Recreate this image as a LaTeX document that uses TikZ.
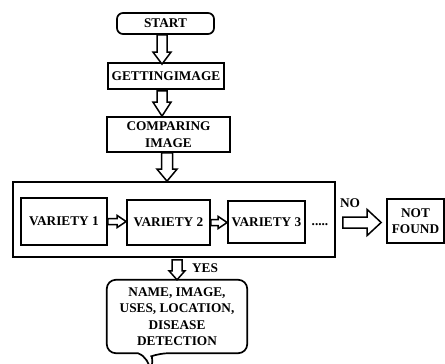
\documentclass[tikz,border=0pt]{standalone}
\usepackage{fontspec}
\setmainfont{Liberation Serif}
\usetikzlibrary{calc}
\tikzset{
  lbl/.style={font=\bfseries\fontsize{13.3}{16.5}\selectfont, inner sep=0pt, align=center},
  box/.style={lbl, draw, line width=1.7pt},
  arrline/.style={line width=1.5pt, line join=miter, fill=white},
}
\newcommand\varr[5]{% from, to, shaft half, head half, head length
  \draw[arrline] let \p1=(#1), \p2=(#2) in
    (\x1-#3,\y1) -- (\x1+#3,\y1) -- (\x1+#3,\y2+#5) -- (\x1+#4,\y2+#5) -- (\x1,\y2)
    -- (\x1-#4,\y2+#5) -- (\x1-#3,\y2+#5) -- cycle;}
\newcommand\harr[5]{% from, to, shaft half, head half, head length
  \draw[arrline] let \p1=(#1), \p2=(#2) in
    (\x1,\y1-#3) -- (\x1,\y1+#3) -- (\x2-#5,\y1+#3) -- (\x2-#5,\y1+#4) -- (\x2,\y1)
    -- (\x2-#5,\y1-#4) -- (\x2-#5,\y1-#3) -- cycle;}
\begin{document}
\begin{tikzpicture}[x=1pt, y=-1pt]
\useasboundingbox[fill=white] (0,0) rectangle (445,364);

\node[box, rounded corners=6pt, minimum width=97pt, minimum height=21pt] (start) at (165.5,23.5) {START};
\node[box, minimum width=116pt, minimum height=26pt] (get) at (166,76) {GETTINGIMAGE};
\node[box, minimum width=123pt, minimum height=35pt] (comp) at (168.5,134.5) {COMPARING\\IMAGE};

\node[box, minimum width=322pt, minimum height=75pt] (group) at (174,219.5) {};
\node[box, minimum width=86pt, minimum height=47pt] (v1) at (64,221.5) {VARIETY 1};
\node[box, minimum width=83pt, minimum height=45pt] (v2) at (168.5,222.5) {VARIETY 2};
\node[box, minimum width=77pt, minimum height=42pt] (v3) at (266.5,222) {VARIETY 3};
\node[lbl, anchor=base] (dots) at (320,225) {.....};

\node[lbl] (no) at (350,203) {NO};
\node[box, minimum width=57pt, minimum height=44pt] (nf) at (415.5,221) {NOT\\FOUND};

\node[lbl] (yes) at (205,268) {YES};
\node[lbl, minimum width=140pt, minimum height=73pt] (bubble) at (177,316.5)
  {NAME, IMAGE,\\USES, LOCATION,\\DISEASE\\DETECTION};

\draw[line width=1.7pt, rounded corners=9pt]
  ([xshift=31pt]bubble.south west) -- (bubble.south west) -- (bubble.north west)
  -- (bubble.north east) -- (bubble.south east) -- ([xshift=53pt]bubble.south west)
  [sharp corners] to[out=200,in=75] ([xshift=44pt,yshift=-18pt]bubble.south west)
  to[out=105,in=-20] ([xshift=31pt]bubble.south west);

\varr{[xshift=-3.5pt]start.south}{[yshift=-2pt]get.north}{5pt}{9pt}{12pt}
\varr{[xshift=-4pt,yshift=-1pt]get.south}{comp.north}{5pt}{9pt}{14pt}
\varr{[xshift=-1.5pt]comp.south}{group.north}{5.5pt}{10pt}{12pt}
\varr{[xshift=3pt,yshift=-2pt]group.south}{bubble.north}{5pt}{8pt}{9pt}
\harr{v1.east}{v2.west}{3pt}{6pt}{9pt}
\harr{v2.east}{v3.west}{3pt}{6pt}{9pt}
\harr{[xshift=7pt,yshift=-3pt]group.east}{[xshift=-5pt]nf.west}{5.5pt}{13pt}{14pt}
\end{tikzpicture}
\end{document}
